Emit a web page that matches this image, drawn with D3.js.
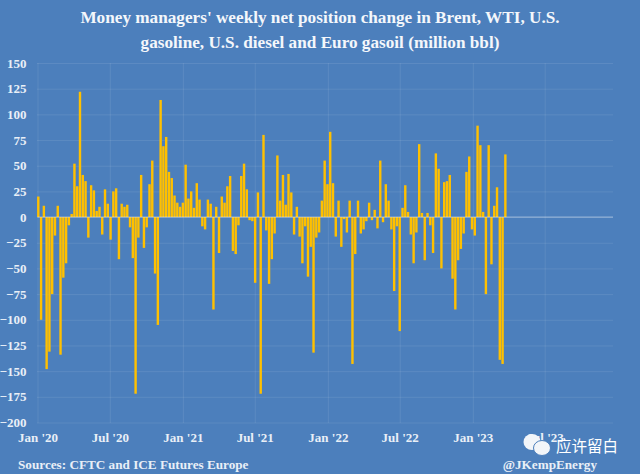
<!DOCTYPE html>
<meta charset="utf-8">
<style>
html, body { margin: 0; padding: 0; background: #4c7fbc; overflow: hidden; }
text { font-family: "Liberation Serif", serif; font-weight: bold; fill: #e9eff7; }
.grid line { stroke: #fff; stroke-opacity: .18; stroke-dasharray: 1 1; }
.grid path { stroke: none; }
.axis path, .axis line { stroke: none; }
.axis text { font-size: 13px; }
</style>
<body>
<script src="https://d3js.org/d3.v7.min.js"></script>
<script>

// weekly net position change, million bbl
var netChange = [
    20, -100, 11, -148, -131, -75, -18, 11, -134, -59, -45, -8, 3,
    52, 30, 122, 41, 35, -20, 31, 26, 6, 10, -17, 27, 13,
    -22, 25, 28, -41, 13, 10, 12, -10, -40, -172, -20, 41, -30, -10, 32, 55,
    -55, -105, 114, 69, 78, 44, 38, 21, 14, 10, 14, 51, 18, 25, 9, 33, 17,
    -9, -12, 17, 13, -90, 10, -35, 20, 14, 30, 40, -33, -36, -8, 40, 52, 27,
    -3, -4, -64, 24, -172, 80, -13, -65, -41, -16, 60, 16, 41, 12, 42, 24,
    -17, 10, -19, -45, -9, -58, -29, -132, -20, -15, 16, 55, 32, 83, 33,
    -19, 16, -29, -2, -15, 16, -143, -36, 16, -16, -12, -4, 14, -3, 7, -11,
    55, -5, 32, 16, -12, -72, -9, -111, 9, 31, 5, -17, -45, -15, 71, 4, -42,
    4, -8, -35, 62, 47, -50, 34, 35, 41, -60, -90, -42, -31, -16, 44, 59,
    -12, -18, 89, 70, 5, -75, 70, -46, 11, 29, -139, -143, 61
];
var yTicks = [150, 125, 100, 75, 50, 25, 0, -25, -50, -75, -100, -125, -150, -175, -200];
var xTickDates = ["2020-01-01", "2020-07-01", "2021-01-01", "2021-07-01", "2022-01-01", "2022-07-01", "2023-01-01", "2023-07-01"];
var xTickLabels = ["Jan '20", "Jul '20", "Jan '21", "Jul '21", "Jan '22", "Jul '22", "Jan '23", "Jul '23"];
var titleLines = ["Money managers' weekly net position change in Brent, WTI, U.S.",
    "gasoline, U.S. diesel and Euro gasoil (million bbl)"];

var width = 640, height = 474;
var margin = {top: 63, right: 27, bottom: 51.5, left: 37.5};
var plotW = width - margin.left - margin.right,
    plotH = height - margin.top - margin.bottom;

var parseDay = d3.timeParse("%Y-%m-%d");
var start = parseDay("2020-01-03");

var data = netChange.map(function(v, i) {
    return {date: d3.timeDay.offset(start, i * 7), value: v};
});

var x = d3.scaleTime()
    .domain([parseDay("2020-01-01"), parseDay("2023-12-20")])
    .range([0, plotW]);
var y = d3.scaleLinear().domain([-200, 150]).range([plotH, 0]);

var svg = d3.select("body").append("svg")
    .attr("width", width)
    .attr("height", height)
    .style("display", "block");

var g = svg.append("g")
    .attr("transform", "translate(" + margin.left + "," + margin.top + ")");

// grid
g.append("g").attr("class", "grid")
    .call(d3.axisLeft(y).tickValues(yTicks).tickSize(-plotW).tickFormat(""));
g.append("g").attr("class", "grid")
    .attr("transform", "translate(0," + plotH + ")")
    .call(d3.axisBottom(x).tickValues(xTickDates.map(parseDay)).tickSizeInner(-plotH).tickSizeOuter(0).tickFormat(""));

// bars
g.selectAll(".bar").data(data).enter().append("rect")
    .attr("class", "bar")
    .attr("x", function(d) { return x(d.date) - 1.2; })
    .attr("width", 2.4)
    .attr("y", function(d) { return y(Math.max(0, d.value)); })
    .attr("height", function(d) { return Math.abs(y(d.value) - y(0)); })
    .attr("fill", "#ffc000");

// zero line
g.append("line")
    .attr("x1", 0).attr("x2", plotW)
    .attr("y1", y(0)).attr("y2", y(0))
    .attr("stroke", "#fff").attr("stroke-opacity", .45);

// axes
g.append("g").attr("class", "axis")
    .call(d3.axisLeft(y).tickValues(yTicks).tickSize(0).tickPadding(11));

g.append("g").attr("class", "axis")
    .attr("transform", "translate(0," + plotH + ")")
    .call(d3.axisBottom(x).tickValues(xTickDates.map(parseDay)).tickSize(0).tickPadding(10)
        .tickFormat(function(d, i) { return xTickLabels[i]; }));

// title
svg.selectAll(".title").data(titleLines).enter().append("text")
    .attr("class", "title")
    .attr("x", 320)
    .attr("y", function(d, i) { return 23 + i * 25; })
    .attr("text-anchor", "middle")
    .style("font-size", "17.2px")
    .style("fill", "#f4f7fb")
    .text(function(d) { return d; });

// footer
svg.append("text").attr("x", 18).attr("y", 469)
    .style("font-size", "13.2px")
    .text("Sources: CFTC and ICE Futures Europe");
svg.append("text").attr("x", 597).attr("y", 469)
    .attr("text-anchor", "end")
    .style("font-size", "13.2px")
    .text("@JKempEnergy");

// watermark
var wm = svg.append("g");
wm.append("ellipse").attr("cx", 532).attr("cy", 442).attr("rx", 8.5).attr("ry", 8).attr("fill", "#f2f5f9");
wm.append("ellipse").attr("cx", 542).attr("cy", 448).attr("rx", 8.5).attr("ry", 7.5).attr("fill", "#f2f5f9")
    .attr("stroke", "#4c7fbc").attr("stroke-width", 1);
wm.append("text").attr("x", 556).attr("y", 452)
    .style("font-family", "'Noto Sans CJK SC'")
    .style("font-weight", "normal")
    .style("font-size", "15.5px")
    .style("fill", "#fff")
    .text("应许留白");

</script>
</body>
